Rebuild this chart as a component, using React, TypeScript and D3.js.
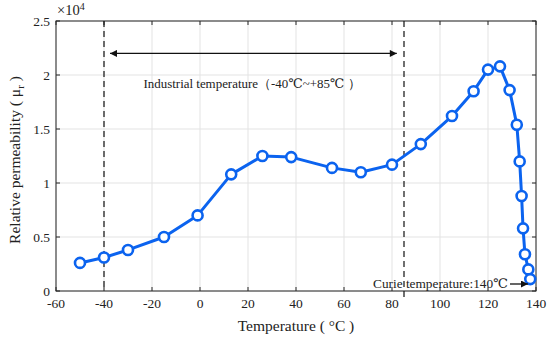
import React from "react";
import * as d3 from "d3";

const temps = [-50, -40, -30, -15, -1, 13, 26, 38, 55, 67, 80, 92, 105, 114, 120, 125, 129, 132, 133.2, 134, 134.6, 135.4, 136.8, 137.6];
const perm = [2600, 3100, 3800, 5000, 7000, 10800, 12500, 12400, 11400, 11000, 11700, 13600, 16200, 18500, 20500, 20800, 18600, 15400, 12000, 8800, 5800, 3400, 2000, 1100];
const xTicks = [-60, -40, -20, 0, 20, 40, 60, 80, 100, 120, 140];
const yTicks = [0, 5000, 10000, 15000, 20000, 25000];
const yTickLabels = ["0", "0.5", "1", "1.5", "2", "2.5"];
const dashedTemps = [-40, 85];

const W = 550, H = 338;
const m = { left: 56, right: 14, top: 21, bottom: 47 };

export default function App() {
  const x = d3.scaleLinear().domain([-60, 140]).range([m.left, W - m.right]);
  const y = d3.scaleLinear().domain([0, 25000]).range([H - m.bottom, m.top]);
  const line = d3.line<number>().x((_, i) => x(temps[i])).y((d) => y(d));
  const font = "'Liberation Serif', 'DejaVu Serif', serif";
  const axisColor = "#262626";
  const blue = "#0b63ef";
  const x0 = x(-60), x1 = x(140), yb = y(0), yt = y(25000);
  const arrowY = y(22000);
  return (
    <svg width={W} height={H} style={{ position: "absolute", left: 0, top: 0, background: "#fff" }} fontFamily={font}>
      <defs>
        <marker id="ah" viewBox="0 0 10 10" refX="10" refY="5" markerWidth="9" markerHeight="7" orient="auto-start-reverse" markerUnits="userSpaceOnUse">
          <path d="M0,0 L10,5 L0,10 z" fill="#111" />
        </marker>
      </defs>
      {xTicks.map((t) => (
        <line key={"gx" + t} x1={x(t)} x2={x(t)} y1={yt} y2={yb} stroke="#e3e3e3" strokeWidth={1} />
      ))}
      {yTicks.map((t) => (
        <line key={"gy" + t} x1={x0} x2={x1} y1={y(t)} y2={y(t)} stroke="#e3e3e3" strokeWidth={1} />
      ))}
      {xTicks.map((t) => (
        <g key={"tx" + t}>
          <line x1={x(t)} x2={x(t)} y1={yb} y2={yb - 4} stroke={axisColor} />
          <line x1={x(t)} x2={x(t)} y1={yt} y2={yt + 4} stroke={axisColor} />
          <text x={x(t)} y={yb + 17} textAnchor="middle" fontSize={13.5} fill="#222">{t}</text>
        </g>
      ))}
      {yTicks.map((t, i) => (
        <g key={"ty" + t}>
          <line x1={x0} x2={x0 + 4} y1={y(t)} y2={y(t)} stroke={axisColor} />
          <line x1={x1} x2={x1 - 4} y1={y(t)} y2={y(t)} stroke={axisColor} />
          <text x={x0 - 6} y={y(t) + 4.5} textAnchor="end" fontSize={13.5} fill="#222">{yTickLabels[i]}</text>
        </g>
      ))}
      <rect x={x0} y={yt} width={x1 - x0} height={yb - yt} fill="none" stroke={axisColor} strokeWidth={1} />
      <text x={x0 + 1} y={yt - 6} fontSize={14.5} fill="#222">×10<tspan dy={-5} fontSize={10}>4</tspan></text>
      <line x1={x(dashedTemps[0])} x2={x(dashedTemps[0])} y1={yt} y2={yb} stroke="#111" strokeWidth={1.2} strokeDasharray="6,4" />
      <line x1={x(dashedTemps[1])} x2={x(dashedTemps[1])} y1={yt} y2={yb + 9} stroke="#111" strokeWidth={1.2} strokeDasharray="6,4" />
      <line x1={x(-37.5)} x2={x(82)} y1={arrowY} y2={arrowY} stroke="#111" strokeWidth={1.3} markerStart="url(#ah)" markerEnd="url(#ah)" />
      <text x={252} y={88} textAnchor="middle" fontSize={13} fill="#222" textLength={217} lengthAdjust="spacingAndGlyphs">Industrial temperature（-40℃~+85℃ ）</text>
      <path d={line(perm) || ""} fill="none" stroke={blue} strokeWidth={3} strokeLinejoin="round" />
      {perm.map((v, i) => (
        <circle key={i} cx={x(temps[i])} cy={y(v)} r={5} fill="#fff" stroke={blue} strokeWidth={2.6} />
      ))}
      <text x={373} y={288} fontSize={13} fill="#222" textLength={135} lengthAdjust="spacingAndGlyphs">Curie temperature:140℃</text>
      <line x1={510} x2={528} y1={284} y2={284} stroke="#111" strokeWidth={1.3} markerEnd="url(#ah)" />
      <text x={296} y={331} textAnchor="middle" fontSize={15.5} fill="#222">Temperature ( °C )</text>
      <text transform={`translate(20,${160}) rotate(-90)`} textAnchor="middle" fontSize={15.5} fill="#222">
        Relative permeability ( μ<tspan dy={4} fontSize={11}>r</tspan><tspan dy={-4}> )</tspan>
      </text>
    </svg>
  );
}
